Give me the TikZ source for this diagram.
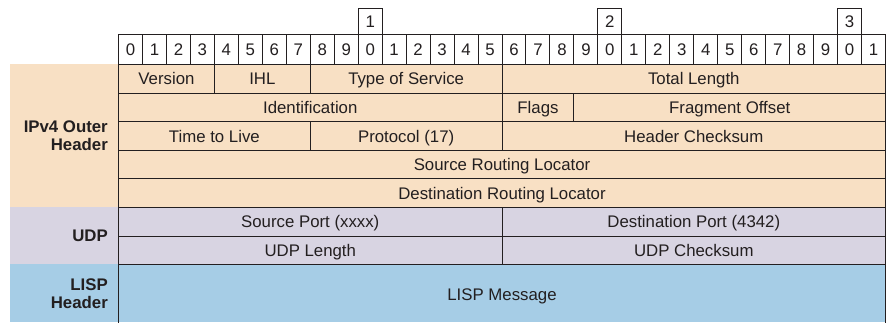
\documentclass[tikz,border=0pt]{standalone}
\usepackage{fontspec}
\setmainfont{Liberation Sans}
\definecolor{ipvfour}{RGB}{248,224,196}
\definecolor{udpband}{RGB}{216,212,226}
\definecolor{lispband}{RGB}{166,205,230}
\definecolor{ink}{RGB}{35,31,32}
\begin{document}
\begin{tikzpicture}[x=1pt,y=-1pt,
  basefont/.style={font=\fontsize{16.8}{18.4}\selectfont},
  fieldcell/.style={basefont, draw=ink, text=ink, line width=1pt, inner sep=0pt,
    anchor=north west, text height=12pt, text depth=0pt},
  bitcell/.style={fieldcell, fill=white},
  sectionlabel/.style={text=ink, anchor=east, align=right, inner sep=0pt,
    font=\fontsize{16.8}{18.4}\selectfont\bfseries}]
\useasboundingbox (0,0) rectangle (896,322);
\def\xo{118}
\def\bw{23.97}
\def\rh{28.6}
% field macro: name, first bit, number of bits, top, height, text
\newcommand\pktfield[6]{%
  \node[fieldcell, minimum width={#3*\bw pt}, minimum height={#5 pt}]
    (#1) at ({\xo+#2*\bw},#4) {#6};}

% coloured bands behind each header
\fill[ipvfour] (10,64) rectangle (885,207);
\fill[udpband] (10,207) rectangle (885,264.2);
\fill[lispband] (10,264.2) rectangle (885,322);

% bit ruler
\foreach \b in {0,...,31} {
  \pgfmathtruncatemacro\d{mod(\b,10)}
  \node[bitcell, minimum width=\bw pt, minimum height=30pt]
    (bit\b) at ({\xo+\b*\bw},34) {\d};
}
\foreach \t in {1,2,3} {
  \node[bitcell, minimum width=\bw pt, minimum height=26.5pt]
    (tens\t) at ({\xo+\t*10*\bw},7.5) {\t};
}

% IPv4 outer header
\pktfield{version}{0}{4}{64}{\rh}{Version}
\pktfield{ihl}{4}{4}{64}{\rh}{IHL}
\pktfield{tos}{8}{8}{64}{\rh}{Type of Service}
\pktfield{totlen}{16}{16}{64}{\rh}{Total Length}
\pktfield{ident}{0}{16}{92.6}{\rh}{Identification}
\pktfield{flags}{16}{3}{92.6}{\rh}{Flags}
\pktfield{fragoff}{19}{13}{92.6}{\rh}{Fragment Offset}
\pktfield{ttl}{0}{8}{121.2}{\rh}{Time to Live}
\pktfield{proto}{8}{8}{121.2}{\rh}{Protocol (17)}
\pktfield{hcsum}{16}{16}{121.2}{\rh}{Header Checksum}
\pktfield{srcrloc}{0}{32}{149.8}{\rh}{Source Routing Locator}
\pktfield{dstrloc}{0}{32}{178.4}{\rh}{Destination Routing Locator}

% UDP header
\pktfield{srcport}{0}{16}{207}{\rh}{Source Port (xxxx)}
\pktfield{dstport}{16}{16}{207}{\rh}{Destination Port (4342)}
\pktfield{udplen}{0}{16}{235.6}{\rh}{UDP Length}
\pktfield{udpcsum}{16}{16}{235.6}{\rh}{UDP Checksum}

% LISP message
\pktfield{lispmsg}{0}{32}{264.2}{60}{LISP Message}

% section labels
\node[sectionlabel] (ipvlabel) at (108,135.5) {IPv4 Outer\\Header};
\node[sectionlabel] (udplabel) at (108,235.6) {UDP};
\node[sectionlabel] (lisplabel) at (108,294) {LISP\\Header};
\end{tikzpicture}
\end{document}
